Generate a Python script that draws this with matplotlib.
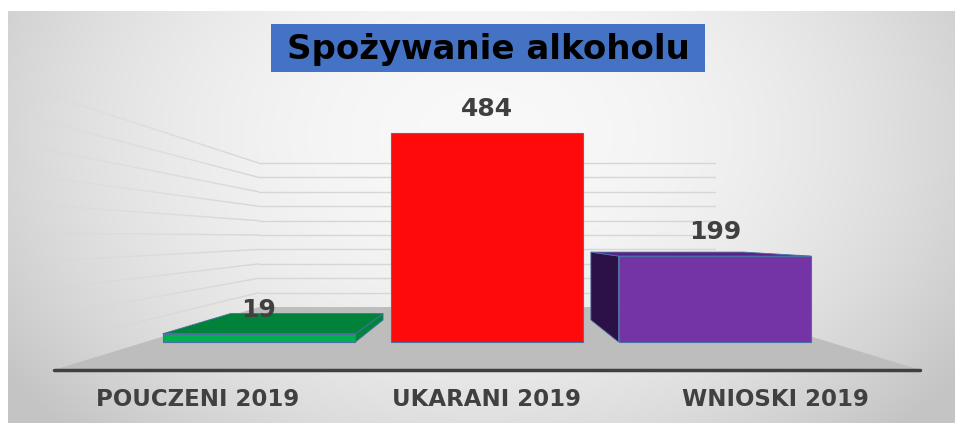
import numpy as np
import matplotlib.pyplot as plt
from matplotlib.patches import Polygon, Rectangle
from matplotlib.collections import LineCollection

# dane
categories = ['POUCZENI 2019', 'UKARANI 2019', 'WNIOSKI 2019']
values = [19, 484, 199]
front_colors = ['#00B050', '#FF0A0A', '#7434A6']
top_colors = ['#00823A', '#D00000', '#5B2186']
side_colors = ['#00843D', '#A00000', '#2B1145']
grid_values = np.arange(0, 501, 50)
title = 'Spożywanie alkoholu'

# perspektywa (jeden punkt zbiegu)
vp = (1.0, 243.0)
k_bar_back = 0.79
k_floor_front = 1.267
k_wall = 0.667
bar_w = 0.846
floor_x = (-0.5, 2.5)


def proj(x, y, k):
    return (vp[0] + (x - vp[0]) * k, vp[1] + (y - vp[1]) * k)


fig = plt.figure(figsize=(9.55, 4.23), dpi=100, facecolor='white')

# tlo z gradientem
bg = fig.add_axes([8 / 955, 0, 1 - 8 / 955, 1 - 11 / 423])
u, w = np.meshgrid(np.linspace(0, 1, 300), np.linspace(0, 1, 150))
r2 = ((u - 0.5) / 0.58) ** 2 + ((w - 0.3) / 0.95) ** 2
shade = np.clip(0.975 - 0.18 * r2, 0.77, 1)
bg.imshow(np.dstack([shade] * 3), aspect='auto', extent=(0, 1, 1, 0))
bg.axis('off')

ax = fig.add_axes([0, 0, 1, 1])
ax.patch.set_alpha(0)
ax.set_xlim(-1.136, 3.053)
ax.set_ylim(-187.6, 792)
ax.axis('off')

# podloga
floor = [proj(floor_x[0], 0, k_floor_front), proj(floor_x[1], 0, k_floor_front),
         proj(floor_x[1], 0, k_wall), proj(floor_x[0], 0, k_wall)]
ax.add_patch(Polygon(floor, closed=True, facecolor='#BDBDBD', edgecolor='none', zorder=1))
fx0, fy = proj(floor_x[0], 0, k_floor_front)
fx1, _ = proj(floor_x[1], 0, k_floor_front)
ax.plot([fx0, fx1], [fy, fy], color='#404040', lw=2.5, solid_capstyle='round', zorder=2)

# linie siatki: tylna sciana i lewa sciana (zanikajace)
for g in grid_values[1:]:
    xa, ya = proj(floor_x[0], g, k_wall)
    xb, yb = proj(floor_x[1], g, k_wall)
    ax.plot([xa, xb], [ya, yb], color='#D6D6D6', lw=1, zorder=1)
    ks = np.linspace(k_wall, k_floor_front + 0.05, 30)
    pts = [proj(floor_x[0], g, k) for k in ks]
    segs = [[pts[j], pts[j + 1]] for j in range(len(pts) - 1)]
    alphas = np.linspace(1, 0.15, len(segs))
    cols = [(0.84, 0.84, 0.84, a) for a in alphas]
    ax.add_collection(LineCollection(segs, colors=cols, lw=1, zorder=1))

# slupki 3D
for i, v in enumerate(values):
    x0, x1 = i - bar_w / 2, i + bar_w / 2
    ec = '#4A6FA5'
    # bok
    if x1 < vp[0]:
        side = [proj(x1, 0, 1), proj(x1, v, 1), proj(x1, v, k_bar_back), proj(x1, 0, k_bar_back)]
        ax.add_patch(Polygon(side, facecolor=side_colors[i], edgecolor=ec, lw=0.6, zorder=3))
    elif x0 > vp[0]:
        side = [proj(x0, 0, 1), proj(x0, v, 1), proj(x0, v, k_bar_back), proj(x0, 0, k_bar_back)]
        ax.add_patch(Polygon(side, facecolor=side_colors[i], edgecolor=ec, lw=0.6, zorder=3))
    # gora
    if v < vp[1]:
        top = [proj(x0, v, 1), proj(x1, v, 1), proj(x1, v, k_bar_back), proj(x0, v, k_bar_back)]
        ax.add_patch(Polygon(top, facecolor=top_colors[i], edgecolor=ec, lw=0.6, zorder=3))
    # przod
    ax.add_patch(Rectangle((x0, 0), bar_w, v, facecolor=front_colors[i],
                           edgecolor=ec, lw=0.8, zorder=4))
    ax.annotate(str(v), xy=(i, v), xytext=(0, 17), textcoords='offset points',
                ha='center', va='center', fontsize=18, fontweight='bold',
                color='#404040', zorder=6)

# etykiety kategorii
for i, cat in enumerate(categories):
    lx, ly = proj(i, 0, k_floor_front)
    ax.annotate(cat, xy=(lx, ly), xytext=(0, -21), textcoords='offset points',
                ha='center', va='center', fontsize=16.5, fontweight='bold',
                color='#404040')

# tytul
fig.patches.append(Rectangle((271 / 955, 1 - 72 / 423), 434 / 955, 48 / 423,
                             transform=fig.transFigure, facecolor='#4472C4',
                             edgecolor='none', zorder=5))
fig.text(488 / 955, 1 - 49 / 423, title, ha='center', va='center', fontsize=24.5,
         fontweight='bold', color='black', zorder=6)

fig.savefig('out.png', dpi=100, facecolor='white')
